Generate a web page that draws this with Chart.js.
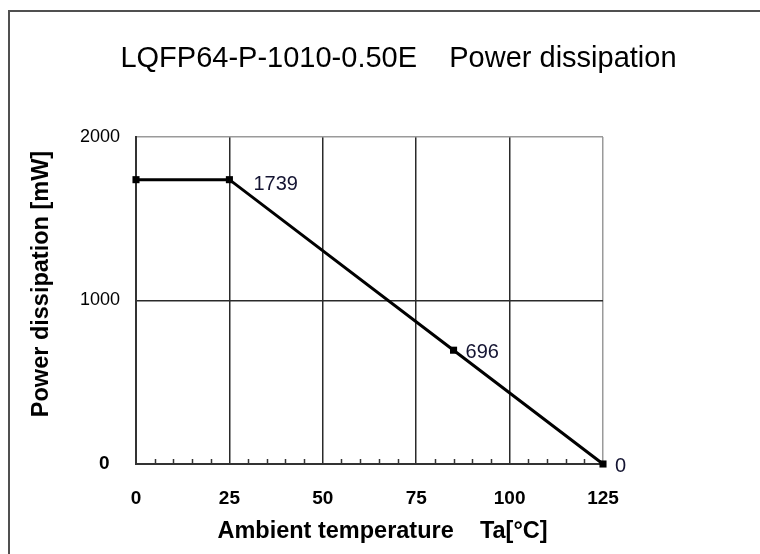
<!DOCTYPE html>
<html><head><meta charset="utf-8">
<script src="https://cdn.jsdelivr.net/npm/chart.js@4/dist/chart.umd.min.js"></script>
<style>
html,body{margin:0;padding:0;background:#fff;}
#wrap{position:relative;width:760px;height:554px;overflow:hidden;background:#fff;}
#frame{position:absolute;left:8px;top:10px;width:900px;height:900px;border-top:2px solid #505050;border-left:2px solid #505050;}
canvas{position:absolute;left:0;top:0;}
</style></head><body>
<div id="wrap"><div id="frame"></div><canvas id="c" width="760" height="554"></canvas></div>
<script>
// ---- data ----
const chartTitle = 'LQFP64-P-1010-0.50E    Power dissipation';
const xAxisTitle = 'Ambient temperature    Ta[°C]';
const yAxisTitle = 'Power dissipation [mW]';
const temperatures = [0, 25, 85, 125];
const powerMW = [1739, 1739, 696, 0];
const pointLabels = ['', '1739', '696', '0'];
const xTickValues = [0, 25, 50, 75, 100, 125];
const yTickValues = [0, 1000, 2000];
const xMinorStep = 5;

// ---- styles ----
const FONT = 'Arial, "Liberation Sans", sans-serif';
const labelOffsets = [[0, 0], [24, 5], [12, 2], [12, 2]];

const minorTicks = {
  id: 'minorTicks',
  beforeDatasetsDraw(chart) {
    const xs = chart.scales.x, ca = chart.chartArea, ctx = chart.ctx;
    ctx.save();
    ctx.strokeStyle = '#333';
    ctx.lineWidth = 1.5;
    for (let v = xs.min + xMinorStep; v < xs.max; v += xMinorStep) {
      if (xTickValues.includes(v)) continue;
      const px = Math.round(xs.getPixelForValue(v)) + 0.5;
      ctx.beginPath();
      ctx.moveTo(px, ca.bottom);
      ctx.lineTo(px, ca.bottom - 5);
      ctx.stroke();
    }
    ctx.restore();
  }
};

const pointText = {
  id: 'pointText',
  afterDatasetsDraw(chart) {
    const meta = chart.getDatasetMeta(0), ctx = chart.ctx;
    ctx.save();
    ctx.font = '20px ' + FONT;
    ctx.fillStyle = '#141432';
    ctx.textAlign = 'left';
    ctx.textBaseline = 'middle';
    pointLabels.forEach((t, i) => {
      if (!t) return;
      const el = meta.data[i];
      ctx.fillText(t, el.x + labelOffsets[i][0], el.y + labelOffsets[i][1]);
    });
    ctx.restore();
  }
};

const titles = {
  id: 'titles',
  afterDraw(chart) {
    const ctx = chart.ctx;
    ctx.save();
    ctx.fillStyle = '#000';
    ctx.textBaseline = 'alphabetic';
    ctx.textAlign = 'center';
    ctx.font = '29px ' + FONT;
    ctx.fillText(chartTitle, 398.5, 67);
    ctx.font = 'bold 23.5px ' + FONT;
    ctx.fillText(xAxisTitle, 382.5, 538);
    ctx.translate(48, 284);
    ctx.rotate(-Math.PI / 2);
    ctx.fillText(yAxisTitle, 0, 0);
    ctx.restore();
  }
};

new Chart(document.getElementById('c'), {
  type: 'line',
  data: {
    datasets: [{
      data: temperatures.map((t, i) => ({x: t, y: powerMW[i]})),
      borderColor: '#000',
      borderWidth: 3,
      pointStyle: 'rect',
      pointRadius: 5,
      pointBackgroundColor: '#000',
      pointBorderWidth: 0,
      tension: 0,
      clip: false
    }]
  },
  options: {
    responsive: false,
    animation: false,
    devicePixelRatio: 1,
    layout: {padding: {top: 137, right: 157, left: 0, bottom: 0}},
    plugins: {legend: {display: false}, tooltip: {enabled: false}, title: {display: false}},
    scales: {
      x: {
        type: 'linear',
        min: 0, max: 125,
        afterBuildTicks: s => { s.ticks = xTickValues.map(v => ({value: v})); },
        afterFit: s => { s.height = 90; },
        ticks: {
          font: {family: FONT, size: 19, weight: 'bold'},
          color: '#000',
          padding: 23,
          maxRotation: 0,
          autoSkip: false
        },
        grid: {
          drawTicks: false,
          lineWidth: 1.5,
          color: c => (c.tick && c.tick.value === 125) ? '#9a9a9a' : '#2a2a2a'
        },
        border: {color: '#333', width: 2}
      },
      y: {
        type: 'linear',
        min: 0, max: 2000,
        afterBuildTicks: s => { s.ticks = yTickValues.map(v => ({value: v})); },
        afterFit: s => { s.width = 136; },
        ticks: {
          font: c => (c.tick && c.tick.value === 0)
            ? {family: FONT, size: 19, weight: 'bold'}
            : {family: FONT, size: 18},
          color: '#000',
          padding: 16,
          callback: v => v === 0 ? '0  ' : String(v)
        },
        grid: {
          drawTicks: false,
          lineWidth: 1.5,
          color: c => (c.tick && c.tick.value === 2000) ? '#9a9a9a' : '#2a2a2a'
        },
        border: {color: '#333', width: 2}
      }
    }
  },
  plugins: [minorTicks, pointText, titles]
});
</script>
</body></html>
